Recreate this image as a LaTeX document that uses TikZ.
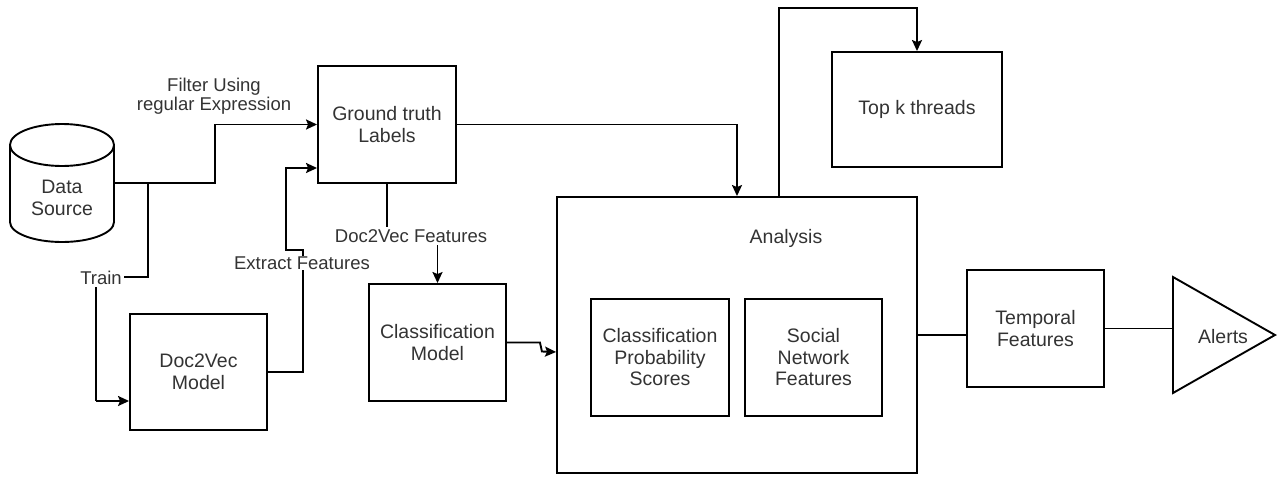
\documentclass[tikz,border=0pt]{standalone}
\usepackage{fontspec}
\setmainfont{Liberation Sans}
\usetikzlibrary{arrows.meta}
\definecolor{txt}{HTML}{333333}
\tikzset{
  box/.style={draw=black, line width=1.9pt, fill=white, text=txt, align=center,
    font=\fontsize{19.5}{21.5}\selectfont, inner sep=0pt},
  btxt/.style={text=txt, align=center, font=\fontsize{19.5}{21.5}\selectfont, inner sep=0pt},
  lbl/.style={fill=white, text=txt, align=center, font=\fontsize{18.5}{18.5}\selectfont, inner sep=2pt},
  conn/.style={line width=1.9pt, draw=black},
  arr/.style={conn, -{Stealth[length=11pt,width=10pt,inset=2pt]}}
}
\begin{document}
\begin{tikzpicture}[x=1pt,y=-1pt]
\useasboundingbox (0,0) rectangle (1278,477);
% Data source cylinder
\node[minimum width=104pt, minimum height=119pt, inner sep=0pt] (ds) at (62,183) {};
\draw[line width=1.9pt, fill=white] (10,145) -- (10,222) arc[start angle=180, end angle=0, x radius=52, y radius=20] -- (114,145);
\draw[line width=1.9pt] (62,145) ellipse[x radius=52, y radius=21];
\node[btxt] (dstxt) at (62,198) {Data\\Source};

% boxes
\node[box, minimum width=138pt, minimum height=117pt] (gt) at (387,124.5) {Ground truth\\Labels};
\node[box, minimum width=137pt, minimum height=116pt] (dv) at (198.5,372) {Doc2Vec\\Model};
\node[box, minimum width=137pt, minimum height=117pt] (cm) at (437.5,342.5) {Classification\\Model};
\node[box, minimum width=360pt, minimum height=276pt] (an) at (737,335) {};
\node[btxt] (antxt) at (786,238) {Analysis};
\node[box, minimum width=138pt, minimum height=117pt] (cps) at (660,357.5) {Classification\\Probability\\Scores};
\node[box, minimum width=137pt, minimum height=117pt] (snf) at (813.5,357.5) {Social\\Network\\Features};
\node[box, minimum width=170pt, minimum height=115pt] (tk) at (917,109.5) {Top k threads};
\node[box, minimum width=137pt, minimum height=117pt] (tf) at (1035.5,328.5) {Temporal\\Features};
% Alerts triangle
\coordinate (alL) at (1173,335);
\draw[line width=1.9pt, fill=white, line join=miter] (1173,277) -- (1275,335) -- (1173,393) -- cycle;
\node[btxt] (al) at (1223,337) {Alerts};

% connectors
\draw[arr] (ds.east) -- ++(101,0) |- (gt.west);
\node[lbl, fill=none] (flt) at (214,96) {Filter Using\\regular Expression};

\draw[conn] (ds.east) -- ++(34,0) -- ++(0,94) -| (96,401);
\draw[arr] (96,401) -- (dv.west |- 0,401);
\node[lbl] (trn) at (101,278) {Train};

\draw[arr] (dv.east) -- ++(35,0) -- ++(0,-122) -- ++(-17,0) |- (gt.west |- 0,168);
\node[lbl, inner sep=1pt] (ext) at (302,263) {Extract Features};

\draw[arr] (gt.south) -- ++(0,54) -| (cm.north);
\node[lbl] (dvf) at (411,236) {Doc2Vec Features};

\draw[arr] (cm.east) -- ++(33,0) -- ++(2,9) -- (an.west |- 0,352);
\draw[arr] (gt.east) -| (an.north);
\draw[arr] (an.north -| 779,0) -- (779,8) -| (tk.north);
\draw[conn] (an.east) -- (tf.west |- an.east);
\draw[conn] (tf.east) -- (alL |- tf.east);
\end{tikzpicture}
\end{document}
